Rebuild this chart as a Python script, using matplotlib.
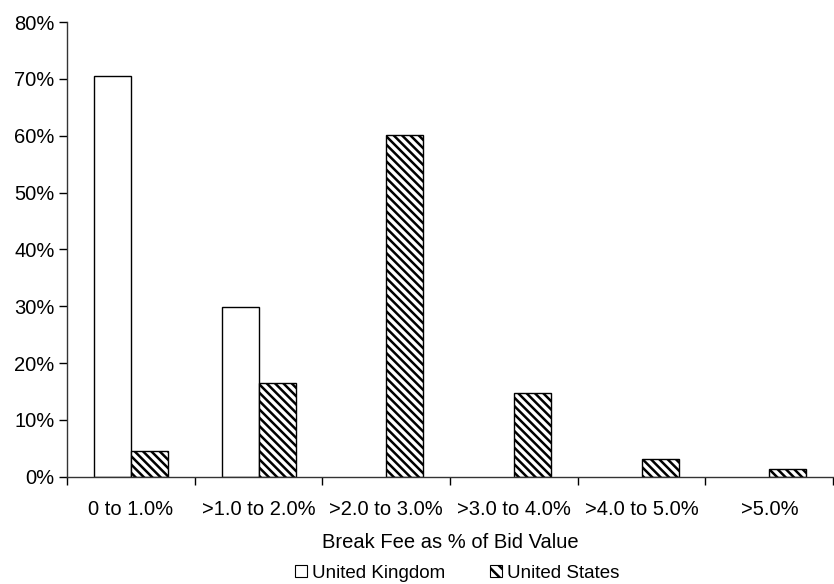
import matplotlib
matplotlib.use("Agg")
import matplotlib.pyplot as plt
import numpy as np
from matplotlib.patches import Patch
from matplotlib.ticker import PercentFormatter

categories = ["0 to 1.0%", ">1.0 to 2.0%", ">2.0 to 3.0%", ">3.0 to 4.0%", ">4.0 to 5.0%", ">5.0%"]
uk_values = [70.5, 29.9, 0.0, 0.0, 0.0, 0.0]
us_values = [4.6, 16.5, 60.2, 14.7, 3.1, 1.4]
series_names = ["United Kingdom", "United States"]
y_ticks = [0, 10, 20, 30, 40, 50, 60, 70, 80]

plt.rcParams['font.family'] = ['Liberation Sans', 'DejaVu Sans']
plt.rcParams['hatch.linewidth'] = 1.8
plt.rcParams['hatch.color'] = 'black'

FS = 14.5
fig = plt.figure(figsize=(8.34, 5.84), dpi=100)
ax = fig.add_axes([67/834, 1 - 476.7/584, 1 - 67/834 - 0.001, (476.7 - 22)/584])

x = np.arange(len(categories))
w = 0.29
uk_idx = [i for i, v in enumerate(uk_values) if v > 0]
ax.bar(x[uk_idx] - w/2, [uk_values[i] for i in uk_idx], width=w, color='white',
       edgecolor='black', linewidth=1.0)
ax.bar(x + w/2, us_values, width=w, color='white', edgecolor='black',
       linewidth=1.0, hatch='\\\\\\\\')

ax.set_xlim(-0.5, len(categories) - 0.5)
ax.set_ylim(0, 80)
ax.set_yticks(y_ticks)
ax.yaxis.set_major_formatter(PercentFormatter(decimals=0))
ax.set_xticks(np.arange(len(categories) + 1) - 0.5)
ax.set_xticklabels([])
ax.set_xticks(x, minor=True)
ax.set_xticklabels(categories, minor=True)
ax.tick_params(axis='x', which='minor', length=0, pad=17, labelsize=FS)
ax.tick_params(axis='x', which='major', length=6, direction='out', width=1)
ax.tick_params(axis='y', length=6, direction='out', width=1, labelsize=FS, pad=3)

for s in ['top', 'right']:
    ax.spines[s].set_visible(False)
for s in ['left', 'bottom']:
    ax.spines[s].set_linewidth(1.0)
    ax.spines[s].set_color('#333333')

ax.set_xlabel("Break Fee as % of Bid Value", fontsize=FS, labelpad=10)

handles = [Patch(facecolor='white', edgecolor='black', linewidth=0.8),
           Patch(facecolor='white', edgecolor='black', linewidth=0.8, hatch='\\\\\\')]
fig.legend(handles, series_names, loc='center', bbox_to_anchor=(457/834, 1 - 573/584),
           ncol=2, frameon=False, fontsize=13.5, handlelength=0.65, handleheight=0.65,
           handletextpad=0.25, columnspacing=2.4)

fig.savefig("out.png", dpi=100)
